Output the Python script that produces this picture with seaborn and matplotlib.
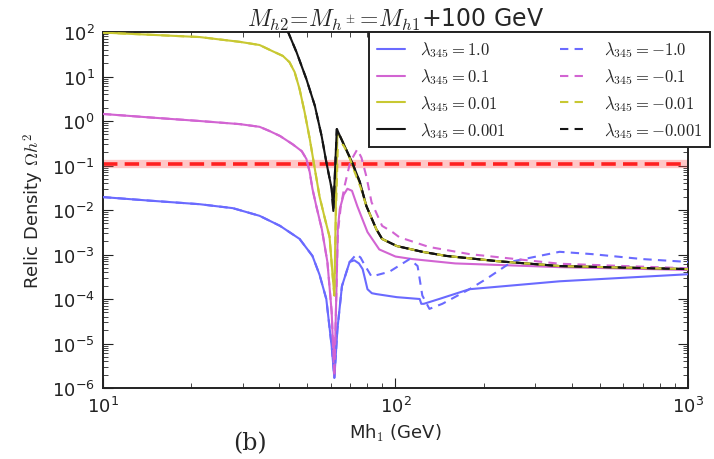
import numpy as np
import pandas as pd
import matplotlib
matplotlib.use("Agg")
import matplotlib.pyplot as plt
import seaborn as sns

# ---------------- data ----------------
# lambda_345 = +/-1.0 (blue); branch below the resonance is shared
mh_blue_pre = [10, 14.5, 21.4, 27.8, 34.3, 40.3, 47, 52, 55, 58, 60.5]
om_blue_pre = [0.0195, 0.0162, 0.0135, 0.011, 0.0074, 0.0044, 0.00224,
               9.3e-4, 3.5e-4, 1.0e-4, 8.7e-6]
mh_blue_pos = [61.8, 63.3, 65.6, 69.7, 72.3, 75, 77.2, 78.7, 80.2, 83, 86,
               101, 121, 122.5, 125, 141, 179, 364, 1000]
om_blue_pos = [1.7e-6, 2.1e-5, 1.95e-4, 6.8e-4, 7.4e-4, 6.3e-4, 4.7e-4,
               2.8e-4, 1.66e-4, 1.35e-4, 1.29e-4, 1.1e-4, 1.0e-4, 7.8e-5,
               7.8e-5, 1.0e-4, 1.66e-4, 2.5e-4, 3.6e-4]
mh_blue_neg = [61.8, 63.3, 65.6, 69.7, 73.6, 76, 78, 82.8, 95.3, 111.8, 119,
               123.5, 130.6, 144.6, 179, 204, 251, 364, 470, 697, 1000]
om_blue_neg = [1.7e-6, 2.1e-5, 1.95e-4, 6.8e-4, 1.02e-3, 8.5e-4, 6.2e-4,
               3.2e-4, 4.1e-4, 7.9e-4, 5.5e-4, 1.2e-4, 6e-5, 7.8e-5, 1.66e-4,
               2.8e-4, 7e-4, 1.15e-3, 1.02e-3, 7.9e-4, 6.8e-4]

# lambda_345 = +/-0.1 (magenta)
mh_mag_pre = [10, 14.5, 21.4, 29.4, 34.3, 37, 40.3, 44.5, 47.8, 49.6, 50.9,
              52, 53.6, 56, 58.5, 60.5]
om_mag_pre = [1.44, 1.2, 1.0, 0.85, 0.74, 0.60, 0.46, 0.30, 0.21, 0.14,
              0.071, 0.030, 0.0123, 3.7e-3, 6.8e-4, 5.1e-5]
mh_mag_pos = [61.8, 62.8, 63.5, 64.5, 66.5, 68.5, 71, 74, 77, 80.2, 88, 100,
              114, 160, 364, 1000]
om_mag_pos = [1.8e-6, 1.5e-4, 3.7e-3, 0.0105, 0.022, 0.03, 0.027, 0.0123,
              6.3e-3, 3.2e-3, 1.3e-3, 9e-4, 7.9e-4, 6.3e-4, 5.2e-4, 4.5e-4]
mh_mag_neg = [61.8, 62.8, 63.5, 65, 67, 70, 74, 76.5, 79.5, 82.8, 90, 97.6,
              103, 130, 179, 364, 1000]
om_mag_neg = [1.8e-6, 1.5e-4, 3e-3, 0.012, 0.035, 0.12, 0.23, 0.15, 0.057,
              0.015, 4.4e-3, 3.2e-3, 2.45e-3, 1.48e-3, 1.02e-3, 6.2e-4, 4.9e-4]

# lambda_345 = +/-0.01 (yellow)
mh_yel_pre = [10, 21.4, 29.4, 34.3, 38, 41.2, 43.4, 45.2, 47, 48.9, 50.9, 53,
              55, 57.4, 59.5, 61]
om_yel_pre = [97, 77, 60, 51, 37, 29, 21, 12.6, 5.2, 1.58, 0.40, 0.083,
              0.020, 6.3e-3, 2.5e-3, 3.2e-4]
mh_yel_pos = [61.8, 62.6, 63.3, 65, 68, 71, 75.5, 79.5, 86, 90, 101, 123.5,
              149, 222, 364, 1000]
om_yel_pos = [1.2e-4, 0.02, 0.55, 0.42, 0.22, 0.11, 0.04, 0.0123, 3.7e-3,
              2.24e-3, 1.55e-3, 1.15e-3, 9.3e-4, 7.1e-4, 5.5e-4, 4.7e-4]
mh_yel_neg = [61.8, 62.6, 63.5, 66, 69, 72, 76, 79.5, 86, 90, 101, 123.5,
              149, 222, 364, 1000]
om_yel_neg = [1.2e-4, 0.01, 0.25, 0.3, 0.18, 0.08, 0.032, 0.0123, 3.7e-3,
              2.24e-3, 1.55e-3, 1.15e-3, 9.3e-4, 7.1e-4, 5.5e-4, 4.7e-4]

# lambda_345 = +/-0.001 (black)
mh_blk_pre = [40, 42.5, 45.9, 49.6, 53, 55.9, 58, 60.5]
om_blk_pre = [200, 117, 35, 8.7, 2.2, 0.46, 0.12, 0.03]
mh_blk_pos = [61.3, 63, 65, 68, 71, 75.5, 79.5, 86, 90, 101, 123.5, 149, 222,
              364, 1000]
om_blk_pos = [9.5e-3, 0.66, 0.42, 0.22, 0.12, 0.043, 0.0123, 3.7e-3, 2.24e-3,
              1.55e-3, 1.15e-3, 9.3e-4, 7.1e-4, 5.5e-4, 4.7e-4]
mh_blk_neg = [61.3, 63, 65, 68, 71, 75.5, 79.5, 86, 90, 101, 123.5, 149, 222,
              364, 1000]
om_blk_neg = [9.5e-3, 0.66, 0.42, 0.22, 0.12, 0.043, 0.0123, 3.7e-3, 2.24e-3,
              1.55e-3, 1.15e-3, 9.3e-4, 7.1e-4, 5.5e-4, 4.7e-4]

lam_pos = ["1.0", "0.1", "0.01", "0.001"]
lam_neg = ["-1.0", "-0.1", "-0.01", "-0.001"]
relic_obs = 0.11
x_ticks = [10, 100, 1000]

# ---------------- style ----------------
sns.set_style("ticks")
plt.rcParams.update({
    "font.family": ["DejaVu Sans"],
    "mathtext.fontset": "cm",
    "xtick.direction": "in", "ytick.direction": "in",
    "xtick.top": True, "ytick.right": True,
    "xtick.major.size": 7, "ytick.major.size": 7,
    "xtick.minor.size": 3.5, "ytick.minor.size": 3.5,
    "xtick.minor.visible": True, "ytick.minor.visible": True,
    "axes.linewidth": 1.4, "axes.edgecolor": "#222222",
})

fig = plt.figure(figsize=(7.14, 4.60), dpi=100)
ax = fig.add_axes([103 / 714, 1 - 389 / 460, (688 - 103) / 714, (389 - 33) / 460])

colors = ["#6a6aff", "#d264d2", "#c8c832", "#151515"]

series_pos = [
    (mh_blue_pre + mh_blue_pos, om_blue_pre + om_blue_pos),
    (mh_mag_pre + mh_mag_pos, om_mag_pre + om_mag_pos),
    (mh_yel_pre + mh_yel_pos, om_yel_pre + om_yel_pos),
    (mh_blk_pre + mh_blk_pos, om_blk_pre + om_blk_pos),
]
series_neg = [
    (mh_blue_pre + mh_blue_neg, om_blue_pre + om_blue_neg),
    (mh_mag_pre + mh_mag_neg, om_mag_pre + om_mag_neg),
    (mh_yel_pre + mh_yel_neg, om_yel_pre + om_yel_neg),
    (mh_blk_pre + mh_blk_neg, om_blk_pre + om_blk_neg),
]

# observed relic density band
ax.axhline(relic_obs, color="#ff6060", lw=6, alpha=0.35, zorder=1)
ax.axhline(relic_obs, color="#ff2020", lw=2.6, ls=(0, (4, 2)), zorder=1.5)

handles = []
for (x, y), c, lab in zip(series_pos, colors, lam_pos):
    df = pd.DataFrame({"mh": x, "om": y})
    sns.lineplot(data=df, x="mh", y="om", ax=ax, color=c, lw=1.5,
                 estimator=None, sort=False, zorder=3, legend=False)
    ln = ax.lines[-1]
    ln.set_label(r"$\lambda_{345}=%s$" % lab)
    handles.append(ln)
for (x, y), c, lab in zip(series_neg, colors, lam_neg):
    df = pd.DataFrame({"mh": x, "om": y})
    sns.lineplot(data=df, x="mh", y="om", ax=ax, color=c, lw=1.5,
                 estimator=None, sort=False, zorder=4, legend=False)
    ln = ax.lines[-1]
    ln.set_linestyle((0, (4, 3)))
    ln.set_label(r"$\lambda_{345}=%s$" % lab.replace("-", "{-}"))
    handles.append(ln)

if ax.get_legend() is not None:
    ax.get_legend().remove()

ax.set_xscale("log")
ax.set_yscale("log")
ax.set_xlim(10, 1000)
ax.set_ylim(1e-6, 1e2)
ax.set_xticks(x_ticks)
ax.tick_params(labelsize=13, colors="#222222", pad=6)
ax.set_xlabel(r"Mh$_1$ (GeV)", fontsize=13, labelpad=4)
ax.set_ylabel(r"Relic Density $\Omega h^2$", fontsize=13, labelpad=4)
ax.set_title(r"$M_{h2}\!=\!M_{h^\pm}\!=\!M_{h1}$+100 GeV", fontsize=17, pad=3)

leg = fig.legend(handles=handles, loc="upper left", ncol=2,
                 bbox_to_anchor=(369 / 714, 1 - 33 / 460), borderaxespad=0,
                 fontsize=12, frameon=True, fancybox=False,
                 edgecolor="#222222", framealpha=1, handlelength=1.7,
                 handletextpad=0.9, columnspacing=3.3, labelspacing=0.42,
                 borderpad=0.45)
leg.get_frame().set_linewidth(1.4)

fig.text(250 / 714, 1 - 432 / 460, "(b)", fontsize=17, family="serif",
         ha="center", va="top")

fig.savefig("out.png", dpi=100)
